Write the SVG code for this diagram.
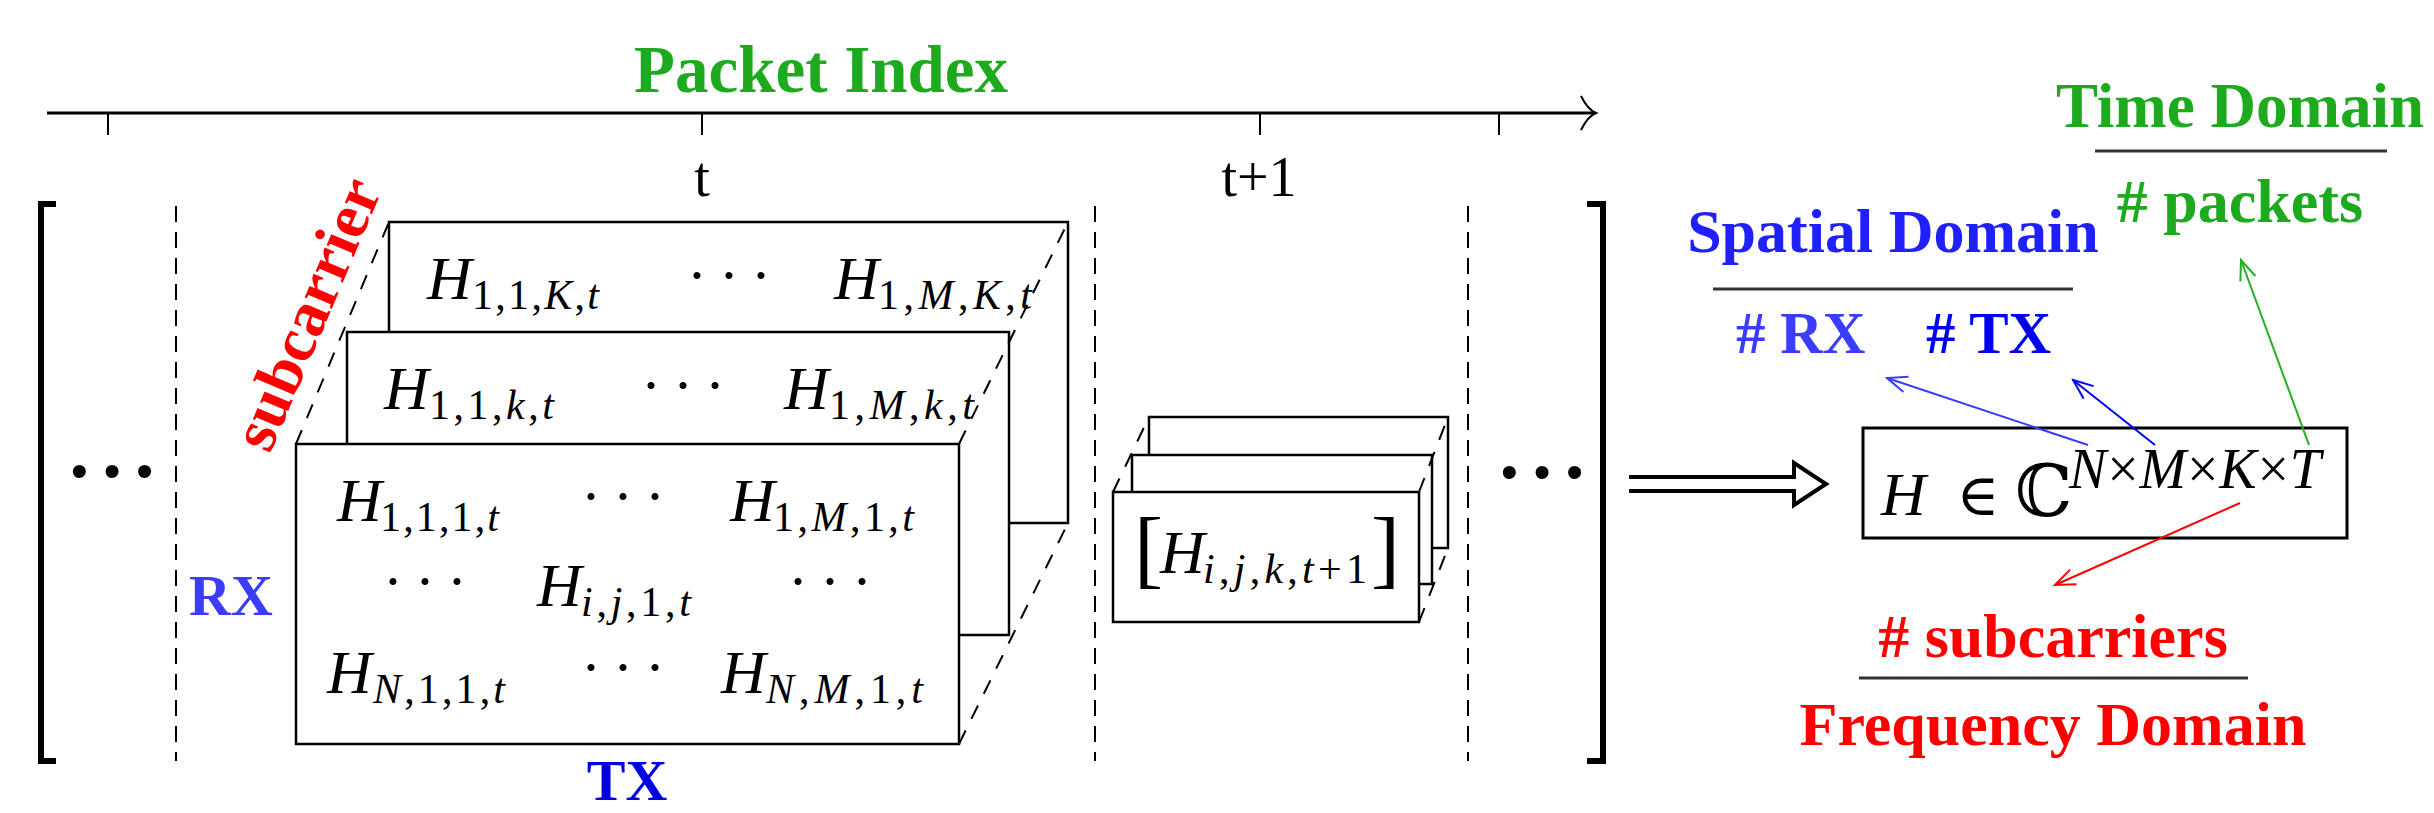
<svg xmlns="http://www.w3.org/2000/svg" width="2434" height="813" viewBox="0 0 2434 813">
<defs>
<style>
.bx{fill:#fff;stroke:#000;stroke-width:2.5}
.dsh{fill:none;stroke:#000;stroke-width:2;stroke-dasharray:16 10}
.dd{fill:none;stroke:#000;stroke-width:2;stroke-dasharray:15 13}
.m{font-family:"Liberation Serif","DejaVu Serif",serif;font-style:italic;font-size:62px;fill:#000}
.s{font-family:"Liberation Serif","DejaVu Serif",serif;font-size:42px;fill:#000}
.i{font-style:italic}
.b{font-family:"Liberation Serif","DejaVu Serif",serif;font-weight:bold}
.dots{font-family:"Liberation Serif","DejaVu Serif",serif;font-size:60px;letter-spacing:12px}
.bdots{font-family:"Liberation Serif","DejaVu Serif",serif;font-weight:bold;font-size:80px;letter-spacing:6px}
.frac{stroke:#333;stroke-width:3}
</style>
<marker id="ab1" viewBox="-22 -10 24 20" markerWidth="24" markerHeight="20" refX="0" refY="0" orient="auto" markerUnits="userSpaceOnUse"><path d="M-20,-8 L0,0 L-20,8" fill="none" stroke="#3a3aff" stroke-width="2"/></marker>
<marker id="ab2" viewBox="-22 -10 24 20" markerWidth="24" markerHeight="20" refX="0" refY="0" orient="auto" markerUnits="userSpaceOnUse"><path d="M-20,-8 L0,0 L-20,8" fill="none" stroke="#0000ff" stroke-width="2"/></marker>
<marker id="ag" viewBox="-22 -10 24 20" markerWidth="24" markerHeight="20" refX="0" refY="0" orient="auto" markerUnits="userSpaceOnUse"><path d="M-20,-8 L0,0 L-20,8" fill="none" stroke="#22b022" stroke-width="2"/></marker>
<marker id="ar" viewBox="-22 -10 24 20" markerWidth="24" markerHeight="20" refX="0" refY="0" orient="auto" markerUnits="userSpaceOnUse"><path d="M-20,-8 L0,0 L-20,8" fill="none" stroke="#ff0000" stroke-width="2"/></marker>
</defs>
<rect width="2434" height="813" fill="#fff"/>

<g id="timeline">
<text x="821" y="92" class="b" font-size="67" fill="#1eaa1e" text-anchor="middle">Packet Index</text>
<line x1="47" y1="113" x2="1594" y2="113" stroke="#000" stroke-width="3"/>
<path d="M1581,96 Q1588,110 1596,113 Q1588,116 1581,130" fill="none" stroke="#000" stroke-width="2"/>
<g stroke="#000" stroke-width="2"><line x1="108" y1="113" x2="108" y2="135"/><line x1="702" y1="113" x2="702" y2="135"/><line x1="1260" y1="113" x2="1260" y2="135"/><line x1="1499" y1="113" x2="1499" y2="135"/></g>
<text x="702" y="196" font-family="Liberation Serif,serif" font-size="56" text-anchor="middle">t</text>
<text x="1259" y="196" font-family="Liberation Serif,serif" font-size="56" text-anchor="middle">t+1</text>
</g>

<g id="brackets">
<path d="M56,204 H41 V761 H56" fill="none" stroke="#000" stroke-width="6"/>
<path d="M1587,204 H1603 V761 H1587" fill="none" stroke="#000" stroke-width="6"/>
<text x="66" y="498" class="bdots">···</text>
<text x="1496" y="499" class="bdots">···</text>
</g>

<g id="separators">
<line x1="176" y1="206" x2="176" y2="761" class="dsh"/>
<line x1="1095" y1="206" x2="1095" y2="761" class="dsh"/>
<line x1="1468" y1="206" x2="1468" y2="761" class="dsh"/>
</g>

<g id="stack-t">
<rect x="389" y="222" width="679" height="301" class="bx"/>
<rect x="347" y="332" width="662" height="303" class="bx"/>
<rect x="296" y="444" width="663" height="300" class="bx"/>
<line x1="296" y1="444" x2="389" y2="222" class="dd"/>
<line x1="959" y1="444" x2="1068" y2="222" class="dd"/>
<line x1="959" y1="744" x2="1068" y2="523" class="dd"/>

<text x="427" y="299" class="m">H</text><text x="472" y="309" class="s" textLength="127" lengthAdjust="spacing">1,1,<tspan class="i">K</tspan>,<tspan class="i">t</tspan></text>
<text x="687" y="295" class="dots">···</text>
<text x="834" y="299" class="m">H</text><text x="878" y="309" class="s" textLength="154" lengthAdjust="spacing">1,<tspan class="i">M</tspan>,<tspan class="i">K</tspan>,<tspan class="i">t</tspan></text>

<text x="384" y="409" class="m">H</text><text x="429" y="419" class="s" textLength="125" lengthAdjust="spacing">1,1,<tspan class="i">k</tspan>,<tspan class="i">t</tspan></text>
<text x="641" y="405" class="dots">···</text>
<text x="784" y="409" class="m">H</text><text x="829" y="419" class="s" textLength="145" lengthAdjust="spacing">1,<tspan class="i">M</tspan>,<tspan class="i">k</tspan>,<tspan class="i">t</tspan></text>

<text x="337" y="521" class="m">H</text><text x="380" y="531" class="s" textLength="119" lengthAdjust="spacing">1,1,1,<tspan class="i">t</tspan></text>
<text x="581" y="516" class="dots">···</text>
<text x="730" y="521" class="m">H</text><text x="773" y="531" class="s" textLength="141" lengthAdjust="spacing">1,<tspan class="i">M</tspan>,1,<tspan class="i">t</tspan></text>

<text x="383" y="601" class="dots">···</text>
<text x="537" y="606" class="m">H</text><text x="581" y="616" class="s" textLength="110" lengthAdjust="spacing"><tspan class="i">i</tspan>,<tspan class="i">j</tspan>,1,<tspan class="i">t</tspan></text>
<text x="788" y="601" class="dots">···</text>

<text x="327" y="693" class="m">H</text><text x="373" y="703" class="s" textLength="132" lengthAdjust="spacing"><tspan class="i">N</tspan>,1,1,<tspan class="i">t</tspan></text>
<text x="581" y="687" class="dots">···</text>
<text x="721" y="693" class="m">H</text><text x="766" y="703" class="s" textLength="157" lengthAdjust="spacing"><tspan class="i">N</tspan>,<tspan class="i">M</tspan>,1,<tspan class="i">t</tspan></text>
</g>

<g id="subcarrier-label">
<text x="326" y="322" class="b" font-size="64" fill="#ff0000" text-anchor="middle" transform="rotate(-67 326 322)">subcarrier</text>
</g>
<g id="rx-label"><text x="231" y="615" class="b" font-size="58" fill="#3c3cff" text-anchor="middle">RX</text></g>
<g id="tx-label"><text x="627" y="800" class="b" font-size="58" fill="#0000e0" text-anchor="middle">TX</text></g>

<g id="stack-t1">
<rect x="1149" y="417" width="299" height="131" class="bx"/>
<rect x="1132" y="455" width="300" height="129" class="bx"/>
<rect x="1113" y="492" width="306" height="130" class="bx"/>
<line x1="1113" y1="492" x2="1149" y2="417" class="dd"/>
<line x1="1419" y1="492" x2="1448" y2="417" class="dd"/>
<line x1="1419" y1="622" x2="1448" y2="548" class="dd"/>
<text x="1134" y="577" font-family="Liberation Serif,serif" font-size="87">[</text>
<text x="1160" y="573" class="m">H</text><text x="1203" y="583" class="s" textLength="164" lengthAdjust="spacing"><tspan class="i">i</tspan>,<tspan class="i">j</tspan>,<tspan class="i">k</tspan>,<tspan class="i">t</tspan>+1</text>
<text x="1371" y="577" font-family="Liberation Serif,serif" font-size="87">]</text>
</g>

<g id="formula">
<rect x="1863" y="428" width="484" height="110" fill="#fff" stroke="#000" stroke-width="3"/>
<text x="1881" y="515" class="m" font-size="80">H</text>
<text x="1978" y="515" font-family="DejaVu Serif,serif" font-size="58" text-anchor="middle">∈</text>
<text x="2015" y="516" font-family="DejaVu Serif,DejaVu Sans,serif" font-size="72">ℂ</text>
<text x="2069" y="488" font-family="Liberation Serif,serif" font-size="56" textLength="252" lengthAdjust="spacing"><tspan class="i">N</tspan>×<tspan class="i">M</tspan>×<tspan class="i">K</tspan>×<tspan class="i">T</tspan></text>
</g>

<g id="spatial">
<text x="1893" y="252" class="b" font-size="62" fill="#2020ff" text-anchor="middle">Spatial Domain</text>
<line x1="1713" y1="289" x2="2073" y2="289" class="frac"/>
<text x="1736" y="353" class="b" font-size="59" fill="#3c3cff"># RX</text>
<text x="1926" y="353" class="b" font-size="59" fill="#0000f0"># TX</text>
</g>
<g id="time">
<text x="2240" y="127" class="b" font-size="63" fill="#1eaa1e" text-anchor="middle">Time Domain</text>
<line x1="2095" y1="151" x2="2387" y2="151" class="frac"/>
<text x="2240" y="222" class="b" font-size="62" fill="#1eaa1e" text-anchor="middle"># packets</text>
</g>
<g id="frequency">
<text x="2053" y="657" class="b" font-size="62" fill="#ff0000" text-anchor="middle"># subcarriers</text>
<line x1="1859" y1="678" x2="2248" y2="678" class="frac"/>
<text x="2053" y="745" class="b" font-size="62" fill="#ff0000" text-anchor="middle">Frequency Domain</text>
</g>

<g id="connectors">
<path d="M1629,477 H1794 V463 L1826,484 L1794,505 V491 H1629" fill="none" stroke="#000" stroke-width="4"/>
<line x1="2088" y1="445" x2="1887" y2="378" stroke="#3a3aff" stroke-width="2" marker-end="url(#ab1)"/>
<line x1="2155" y1="445" x2="2073" y2="380" stroke="#0000ff" stroke-width="2" marker-end="url(#ab2)"/>
<line x1="2309" y1="445" x2="2241" y2="260" stroke="#22b022" stroke-width="2" marker-end="url(#ag)"/>
<line x1="2240" y1="503" x2="2055" y2="585" stroke="#ff0000" stroke-width="2" marker-end="url(#ar)"/>
</g>
</svg>
